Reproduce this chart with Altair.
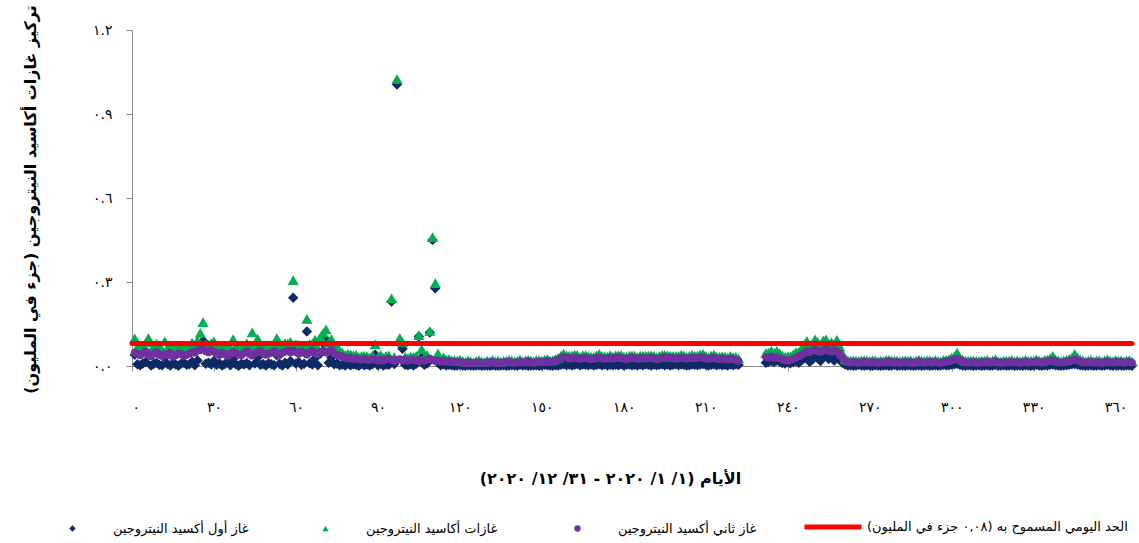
import altair as alt
import pandas as pd

# Axis ticks and their Arabic-Indic labels
X_TICKS = [0, 30, 60, 90, 120, 150, 180, 210, 240, 270, 300, 330, 360]
X_TICK_LABELS = ["٠", "٣٠", "٦٠", "٩٠", "١٢٠", "١٥٠", "١٨٠", "٢١٠", "٢٤٠",
                 "٢٧٠", "٣٠٠", "٣٣٠", "٣٦٠"]
Y_TICKS = [0.0, 0.3, 0.6, 0.9, 1.2]
Y_TICK_LABELS = ["٠.٠", "٠.٣", "٠.٦", "٠.٩", "١.٢"]

RLM = "\u200f"
X_TITLE = "الأيام (١/ ١/ ٢٠٢٠ - ٣١/ ١٢/ ٢٠٢٠)" + RLM
Y_TITLE = "تركيز غازات أكاسيد النيتروجين (جزء في المليون)" + RLM

SERIES_NO = "غاز أول أكسيد النيتروجين"
SERIES_NOX = "غازات أكاسيد النيتروجين"
SERIES_NO2 = "غاز ثاني أكسيد النيتروجين"
LIMIT_LABEL = "الحد اليومي المسموح به (٠,٠٨ جزء في المليون)" + RLM
LIMIT_PPM = 0.08
YEAR_DAYS = 366

_ = None  # no reading for that day

# Daily means in ppb, day 1 .. day 366 of 2020
no_ppb = [
    40, 6, 3, 9, 14, 42, 2, 8, 12, 4,
    3, 30, 7, 2, 10, 5, 1, 9, 12, 4,
    6, 15, 3, 20, 60, 90, 8, 12, 5, 18,
    4, 9, 2, 7, 14, 3, 25, 6, 1, 8,
    5, 11, 3, 62, 9, 30, 4, 7, 2, 10,
    6, 3, 38, 8, 2, 12, 5, 18, 244, 9,
    14, 4, 8, 123, 10, 5, 28, 3, 45, 80,
    95, 12, 30, 6, 9, 3,
    5, 2, 8, 3, 6, 4, 1, 7, 3, 5,
    2, 6, 40, 3, 8, 2, 5, 4, 230, 7,
    1005, 80, 62, 4, 3, 6, 2, 8, 105, 30,
    4, 9, 120, 450, 278, 12, 3, 6, 2, 4,
    3, 1, 2, 4, 2, 1, 3, 2, 1, 2,
    3, 1, 2, 2, 1, 3, 2, 1, 2, 3,
    1, 2, 3, 2, 1, 4, 2, 3, 1, 2,
    2, 3, 1, 2, 4, 3, 2, 1, 3, 2,
    4, 6, 3, 5, 2, 4, 7, 3, 5, 4,
    3, 5, 2, 4, 6, 3, 5, 2, 4, 3,
    5, 3, 6, 2, 4, 5, 3, 4, 2, 5,
    3, 6, 4, 2, 5, 3, 4, 6, 3, 5,
    2, 4, 6, 3, 5, 4, 2, 3, 5, 4,
    3, 5, 7, 4, 2, 4, 6, 3, 5, 3,
    4, 2, 5, 3, 6, 4,
    _, _, _, _, _, _, _, _, _,
    12, 15, 18, 14, 20, 16, 11, 9, 13, 10,
    14, 18, 12, 20, 28, 35, 15, 22, 42, 30,
    18, 38, 46, 25, 32, 20, 40, 22, 12, 5,
    2, 3, 1, 2, 4, 2, 1, 3, 2, 1,
    3, 2, 1, 2, 3, 1, 2, 4, 1, 2,
    2, 1, 3, 2, 1, 2, 3, 1, 2, 3,
    1, 2, 3, 1, 2, 4, 2, 3, 5, 6,
    8, 4, 2, 1, 3, 2, 1, 2, 3, 1,
    2, 3, 1, 2, 4, 1, 2, 3, 1, 2,
    3, 1, 2, 2, 1, 3, 2, 1, 2, 4,
    2, 1, 3, 2, 4, 5, 3, 2, 1, 2,
    3, 4, 6, 7, 5, 3, 2, 1, 2, 3,
    1, 2, 3, 1, 2, 4, 2, 1, 3, 2,
    2, 1, 3, 2, 1,
]

nox_ppb = [
    99, 68, 58, 72, 84, 100, 55, 70, 80, 62,
    58, 88, 64, 70, 60, 62, 66, 72, 65, 60,
    70, 84, 66, 92, 118, 157, 78, 76, 82, 88,
    68, 64, 70, 66, 72, 64, 96, 72, 58, 64,
    72, 82, 64, 120, 74, 98, 76, 70, 60, 74,
    72, 76, 100, 66, 68, 82, 80, 86, 307, 78,
    76, 74, 72, 168, 78, 80, 94, 64, 105, 118,
    131, 84, 96, 70, 66, 56,
    48, 40, 44, 42, 38, 40, 33, 36, 37, 35,
    30, 38, 77, 30, 40, 29, 36, 38, 242, 32,
    1025, 100, 85, 33, 29, 34, 33, 36, 110, 60,
    30, 40, 125, 460, 296, 45, 25, 31, 23, 26,
    20, 21, 19, 23, 18, 15, 20, 17, 14, 18,
    21, 16, 15, 19, 17, 22, 17, 19, 15, 18,
    19, 22, 19, 17, 18, 24, 17, 21, 22, 19,
    17, 21, 21, 19, 23, 25, 20, 21, 26, 29,
    37, 44, 38, 36, 37, 41, 40, 33, 38, 39,
    35, 34, 33, 38, 43, 36, 35, 34, 39, 34,
    38, 39, 40, 33, 33, 37, 38, 37, 32, 37,
    37, 37, 37, 38, 37, 32, 35, 40, 40, 38,
    37, 36, 36, 36, 41, 38, 33, 36, 40, 36,
    37, 42, 43, 36, 32, 37, 41, 34, 34, 35,
    34, 30, 36, 32, 33, 27,
    _, _, _, _, _, _, _, _, _,
    47, 48, 55, 46, 54, 46, 38, 33, 35, 35,
    42, 50, 50, 62, 76, 90, 66, 79, 95, 85,
    70, 92, 95, 80, 85, 78, 93, 70, 45, 25,
    20, 19, 20, 19, 18, 20, 21, 20, 18, 20,
    20, 17, 19, 18, 22, 22, 19, 20, 19, 17,
    19, 20, 19, 20, 16, 19, 23, 19, 18, 20,
    20, 18, 21, 18, 17, 22, 22, 25, 30, 34,
    48, 30, 23, 19, 19, 19, 20, 18, 18, 19,
    19, 22, 17, 20, 24, 18, 17, 19, 19, 19,
    22, 17, 20, 17, 18, 22, 18, 19, 19, 24,
    20, 17, 22, 23, 27, 36, 24, 20, 17, 19,
    22, 26, 30, 43, 32, 24, 20, 17, 19, 22,
    17, 20, 20, 16, 20, 24, 19, 17, 22, 19,
    20, 17, 20, 21, 17,
]

no2_ppb = [
    48, 42, 38, 45, 52, 40, 35, 44, 50, 41,
    36, 43, 39, 47, 33, 38, 45, 42, 36, 40,
    44, 50, 47, 55, 58, 62, 53, 49, 57, 51,
    45, 39, 48, 42, 36, 44, 50, 46, 41, 38,
    47, 52, 43, 37, 45, 49, 54, 46, 40, 44,
    48, 53, 45, 39, 47, 51, 56, 49, 55, 50,
    44, 52, 47, 41, 49, 54, 46, 42, 50, 55,
    48, 53, 58, 45, 40, 36,
    34, 30, 27, 31, 25, 28, 24, 22, 26, 23,
    21, 25, 22, 19, 24, 20, 23, 26, 21, 18,
    22, 25, 20, 23, 19, 21, 24, 20, 17, 22,
    19, 23, 26, 21, 18, 20, 16, 19, 15, 17,
    14, 16, 13, 15, 12, 10, 13, 11, 9, 12,
    14, 11, 10, 13, 12, 15, 11, 13, 10, 12,
    14, 16, 12, 11, 13, 15, 12, 14, 17, 13,
    11, 14, 16, 13, 15, 18, 14, 16, 19, 22,
    28, 32, 30, 26, 29, 31, 27, 25, 28, 30,
    27, 24, 26, 29, 31, 28, 25, 27, 30, 26,
    28, 31, 29, 26, 24, 27, 30, 28, 25, 27,
    29, 26, 28, 31, 27, 24, 26, 29, 32, 28,
    30, 27, 25, 28, 31, 29, 26, 28, 30, 27,
    29, 32, 30, 27, 25, 28, 30, 26, 24, 27,
    25, 23, 26, 24, 22, 18,
    _, _, _, _, _, _, _, _, _,
    32, 30, 34, 29, 31, 27, 24, 21, 19, 22,
    25, 30, 35, 40, 46, 52, 49, 55, 58, 53,
    50, 56, 60, 54, 51, 57, 52, 45, 30, 18,
    14, 12, 15, 13, 11, 14, 16, 13, 12, 15,
    13, 11, 14, 12, 15, 17, 13, 12, 14, 11,
    13, 15, 12, 14, 11, 13, 16, 14, 12, 13,
    15, 12, 14, 13, 11, 14, 16, 18, 21, 24,
    26, 22, 17, 14, 12, 13, 15, 12, 11, 14,
    13, 15, 12, 14, 16, 13, 11, 12, 14, 13,
    15, 12, 14, 11, 13, 15, 12, 14, 13, 16,
    14, 12, 15, 17, 19, 21, 17, 14, 12, 13,
    15, 18, 20, 23, 21, 17, 14, 12, 13, 15,
    12, 14, 13, 11, 14, 16, 13, 12, 15, 13,
    14, 12, 13, 15, 12,
]


def series_frame(name, values_ppb):
    """One row per day that has a reading, concentration converted to ppm."""
    frame = pd.DataFrame({
        "day": list(range(1, len(values_ppb) + 1)),
        "ppb": values_ppb,
        "series": name,
    })
    frame = frame.dropna(subset=["ppb"])
    frame["ppm"] = frame["ppb"].astype(float) / 1000.0
    return frame


limit = pd.DataFrame({"start": [0], "end": [YEAR_DAYS], "ppm": [LIMIT_PPM],
                      "label": [LIMIT_LABEL]})

FONT = "DejaVu Sans"
AXIS_GREY = "#8c8c8c"


def label_lookup(labels, step):
    items = ",".join("'" + s + "'" for s in labels)
    return "[" + items + "][round(datum.value / " + str(step) + ")]"


x_scale = alt.Scale(domain=[0, YEAR_DAYS], nice=False, zero=False)
y_scale = alt.Scale(domain=[0, 1.2], nice=False)

x_axis = alt.Axis(
    values=X_TICKS, labelExpr=label_lookup(X_TICK_LABELS, 30), grid=False,
    tickSize=5, tickColor=AXIS_GREY, domainColor=AXIS_GREY, labelOverlap=False,
    labelFont=FONT, labelFontSize=14, labelColor="black", labelPadding=29,
    title=X_TITLE, titleFont=FONT, titleFontSize=16, titleFontWeight="bold",
    titleColor="black", titleX=478, titleY=112, titleAlign="center",
    titleBaseline="middle",
)
y_axis = alt.Axis(
    values=Y_TICKS, labelExpr=label_lookup(Y_TICK_LABELS, 0.3), grid=False,
    tickSize=6, tickColor=AXIS_GREY, domainColor=AXIS_GREY,
    labelFont=FONT, labelFontSize=14, labelColor="black", labelPadding=14,
    title=Y_TITLE, titleFont=FONT, titleFontSize=16, titleFontWeight="bold",
    titleColor="black", titleX=-102, titleY=169, titleAngle=270,
    titleAlign="center", titleBaseline="middle",
)

LEGEND_ROW_Y = 492


def entry_legend(symbol, left, size=40, stroke_width=0, label_offset=34):
    return alt.Legend(
        title=None, orient="none", legendX=left, legendY=LEGEND_ROW_Y,
        symbolType=symbol, symbolSize=size, symbolStrokeWidth=stroke_width,
        labelOffset=label_offset, labelLimit=400,
        labelFont=FONT, labelFontSize=13, labelColor="black",
    )


def series_layer(name, values_ppb, colour, shape, size, legend):
    return alt.Chart(series_frame(name, values_ppb)).mark_point(
        filled=True, opacity=1, shape=shape, size=size
    ).encode(
        x=alt.X("day:Q", scale=x_scale, axis=x_axis),
        y=alt.Y("ppm:Q", scale=y_scale, axis=y_axis),
        color=alt.Color("series:N", legend=legend,
                        scale=alt.Scale(domain=[name], range=[colour])),
    )


# Layer order is the drawing order: NO below, NOx above it, NO2, then the limit
no_layer = series_layer(SERIES_NO, no_ppb, "#0e2a66", "diamond", 110,
                        entry_legend("diamond", -66))
nox_layer = series_layer(SERIES_NOX, nox_ppb, "#00b050", "triangle-up", 125,
                         entry_legend("triangle-up", 187))
no2_layer = series_layer(SERIES_NO2, no2_ppb, "#7030a0", "circle", 60,
                         entry_legend("circle", 439))

limit_line = alt.Chart(limit).mark_rule(strokeWidth=5, strokeCap="round").encode(
    x=alt.X("start:Q", scale=x_scale, axis=x_axis),
    x2="end:Q",
    y=alt.Y("ppm:Q", scale=y_scale, axis=y_axis),
    color=alt.Color("label:N",
                    legend=alt.Legend(
                        title=None, orient="none", legendX=670, legendY=466,
                        symbolType="stroke", symbolSize=3249,
                        symbolStrokeWidth=5, labelOffset=3, labelLimit=400,
                        labelFont=FONT, labelFontSize=13, labelColor="black"),
                    scale=alt.Scale(domain=[LIMIT_LABEL], range=["#ff0000"])),
)

chart = alt.layer(no_layer, nox_layer, no2_layer, limit_line).resolve_scale(
    color="independent"
).properties(
    width=1000,
    height=336,
    autosize=alt.AutoSizeParams(type="none"),
    padding={"left": 132, "top": 30, "right": 7, "bottom": 177},
    background="white",
).configure_view(stroke=None)

chart.save("out.html", embed_options={"renderer": "svg", "actions": False})
